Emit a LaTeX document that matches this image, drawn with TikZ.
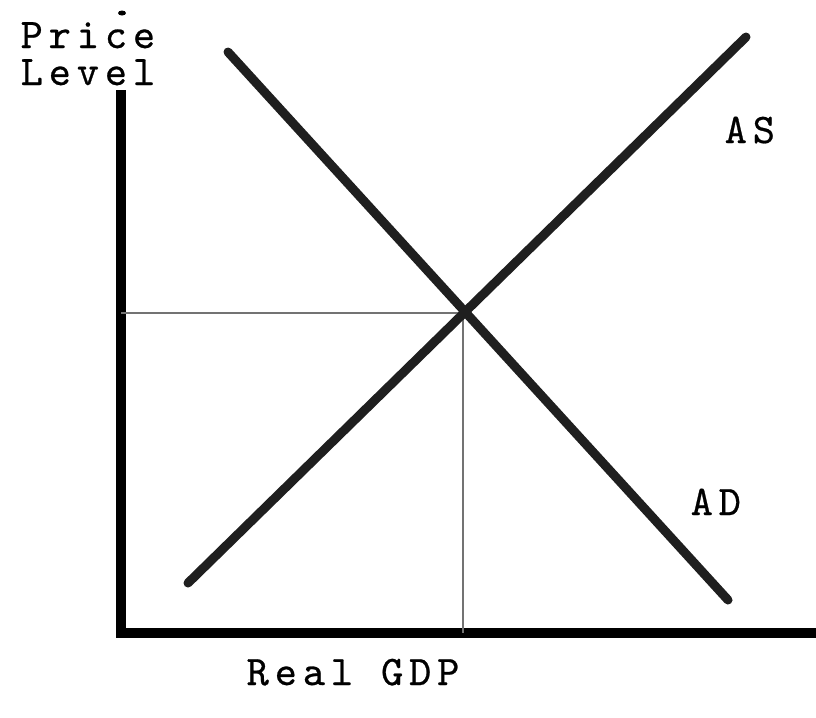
\documentclass[tikz,border=0pt]{standalone}
\usepackage{fontspec}
\newfontfamily\lblfont{lmmono10-regular.otf}[LetterSpace=14,FakeBold=0.6]
\usetikzlibrary{positioning}

\begin{document}
\begin{tikzpicture}[x=0.01cm,y=-0.01cm,
 curve/.style={line width=0.09cm,black!88,line cap=round},
 guide/.style={line width=0.02cm,black!55},
 lbl/.style={font=\lblfont\fontsize{12}{14}\selectfont,inner sep=0pt,anchor=base west}]
\useasboundingbox (0,0) rectangle (816,717);
% axes
\coordinate (orig) at (121,633);
\coordinate (ytop) at (121,95);
\coordinate (xend) at (816,633);
\draw[line width=0.105cm,line cap=rect] (ytop) -- (orig) -- (xend);
\fill (122,13) ellipse (4 and 2.5);
% curves
\coordinate (ad1) at (228,52);
\coordinate (ad2) at (728,600);
\coordinate (as1) at (188,583);
\coordinate (as2) at (746,37);
\coordinate (eq) at (463,313);
\draw[guide] (eq -| orig) -- (eq) -- (eq |- orig);
\draw[curve] (ad1) -- (ad2);
\draw[curve] (as1) -- (as2);
% labels
\node[lbl] (price) at (20,48) {Price};
\node[lbl] (level) at (20,85) {Level};
\node[lbl] (as) at (724,143) {AS};
\node[lbl] (ad) at (690,515) {AD};
\node[lbl] (gdp) at (246,685) {Real GDP};
\end{tikzpicture}
\end{document}
